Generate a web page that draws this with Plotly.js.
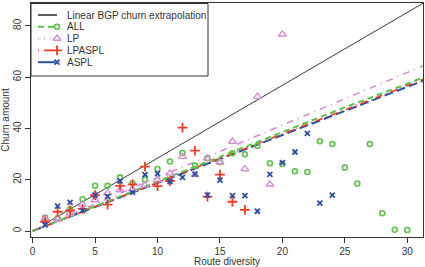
<!DOCTYPE html>
<html><head><meta charset="utf-8">
<script src="https://cdn.plot.ly/plotly-3.0.1.min.js"></script>
<style>html,body{margin:0;padding:0;background:#fff}#chart{width:425px;height:267px}</style>
</head><body><div id="chart"></div>
<script>
// ---- data ----
const allX = [1,2,3,4,5,6,7,8,9,10,11,12,13,14,15,16,17,18,19,20,21,22,23,24,25,26,27,28,29,30];
const allChurn = [5.2,5.0,8.5,12.4,17.6,17.6,20.9,18.6,20.1,24.2,27.1,30.4,25.5,28.4,26.8,30.3,29.9,33.2,26.4,26.1,23.3,23.0,35.0,33.9,24.7,18.5,33.9,6.9,0.5,0.4];
const lpX = [1,2,3,4,5,6,7,8,9,10,11,12,13,14,15,16,17,18,19,20];
const lpChurn = [4.9,4.5,6.9,10.4,12.1,14.8,16.0,16.4,17.8,19.9,22.5,29.0,21.9,28.3,26.8,34.9,24.2,52.4,18.2,76.7];
const lpasplX = [1,2,3,4,5,6,7,8,9,10,11,12,13,14,15,16,17];
const lpasplChurn = [3.6,7.5,8.0,8.6,14.0,10.3,17.6,18.2,25.1,17.5,19.5,40.3,31.3,13.4,22.0,11.4,8.2];
const asplX = [1,2,3,4,5,6,7,8,9,10,11,12,13,14,15,16,17,18,19,20,21,22,23,24];
const asplChurn = [2.4,9.7,11.2,8.0,14.0,13.5,19.5,15.1,22.0,22.4,19.3,20.9,22.2,14.0,19.8,13.8,13.8,7.7,22.1,26.7,30.8,38.1,10.9,14.0];

const fitX = [0,5,10,15,20,25,30,32];
const linearX = [1,32];
const linearY = [2.84,90.9];
const allFit = [0,9.6,19.3,29.0,38.4,48.2,57.4,61.3];
const lpFit = [0,10.6,20.9,31.0,41.3,51.6,61.8,65.9];
const lpasplFit = [0,9.4,19.0,28.5,37.8,47.3,56.7,60.5];
const asplFit = [0,9.3,18.8,28.2,37.5,46.8,56.2,59.9];

const seriesNames = ['Linear BGP churn extrapolation','ALL','LP','LPASPL','ASPL'];

// ---- styles ----
const cBlack = '#3a3a3a', cGreen = '#5ec24a', cPink = '#d38fd3', cRed = '#f23b24', cBlue = '#2b4ea6';
const font = 'Liberation Sans, Arial, Helvetica, sans-serif';

const traces = [
  {x: linearX, y: linearY, mode: 'lines', line: {color: cBlack, width: 1}},
  {x: fitX, y: lpFit, mode: 'lines', line: {color: cPink, width: 1.6, dash: '1px,5px,7px,5px'}},
  {x: fitX, y: asplFit, mode: 'lines', line: {color: cBlue, width: 2, dash: '9px,4px'}},
  {x: fitX, y: lpasplFit, mode: 'lines', line: {color: cRed, width: 1.6, dash: '7px,4px,1px,4px'}},
  {x: fitX, y: allFit, mode: 'lines', line: {color: cGreen, width: 2, dash: '6px,4px'}},
  {x: allX, y: allChurn, mode: 'markers', marker: {symbol: 'circle-open', size: 5, color: cGreen, line: {width: 1.6}}},
  {x: lpX, y: lpChurn, mode: 'markers', marker: {symbol: 'triangle-up-open', size: 7, color: cPink, line: {width: 1.4}}},
  {x: lpasplX, y: lpasplChurn, mode: 'markers', marker: {symbol: 'cross-thin-open', size: 7, color: cRed, line: {width: 1.8}}},
  {x: asplX, y: asplChurn, mode: 'markers', marker: {symbol: 'x-thin-open', size: 5, color: cBlue, line: {width: 1.8}}}
];
traces.forEach(t => { t.showlegend = false; t.hoverinfo = 'skip'; });

// ---- hand-made legend (pixel coordinates on an overlay axis) ----
const rowY = [15, 26.7, 38.5, 50.4, 62.2];
const legColors = [cBlack, cGreen, cPink, cRed, cBlue];
const legDash = ['solid', '6px,4px', '1px,5px', '1px,5px,9px,3px', 'solid'];
const legWidth = [1.6, 2, 1.6, 1.6, 2];
const legSym = [null, 'circle-open', 'triangle-up-open', 'cross-thin-open', 'x-thin-open'];
const legSize = [0, 5, 7, 7, 5];

const shapes = [{type: 'rect', xref: 'x2', yref: 'y2', x0: 31, x1: 208, y0: 3.5, y1: 76,
  line: {color: '#333', width: 1}, fillcolor: '#fff', layer: 'below'}];
const annotations = [];
for (let i = 0; i < 5; i++) {
  shapes.push({type: 'line', xref: 'x2', yref: 'y2', x0: 38, x1: i === 0 ? 57 : 55, y0: rowY[i], y1: rowY[i],
    line: {color: legColors[i], width: legWidth[i], dash: legDash[i]}});
  annotations.push({xref: 'x2', yref: 'y2', x: 65, y: rowY[i], xanchor: 'left', yanchor: 'middle',
    text: seriesNames[i], showarrow: false, font: {family: font, size: 10, color: '#333'}});
  if (legSym[i]) {
    traces.push({x: [57], y: [rowY[i]], xaxis: 'x2', yaxis: 'y2', mode: 'markers', showlegend: false, hoverinfo: 'skip',
      marker: {symbol: legSym[i], size: legSize[i], color: legColors[i], line: {width: i === 2 ? 1.4 : (i === 1 ? 1.6 : 1.8)}}});
  }
}

const axisCommon = {showgrid: false, zeroline: false, showline: true, mirror: true, linecolor: '#333', linewidth: 1,
  ticks: 'outside', ticklen: 5, tickcolor: '#333', tickfont: {family: font, size: 10, color: '#333'}};

const layout = {
  width: 425, height: 267,
  margin: {l: 31, r: 2, t: 3, b: 30},
  paper_bgcolor: '#fff', plot_bgcolor: '#fff',
  showlegend: false,
  font: {family: font, size: 10, color: '#333'},
  xaxis: Object.assign({}, axisCommon, {range: [-0.13, 31.26], tickvals: [0,5,10,15,20,25,30],
    title: {text: 'Route diversity', font: {family: font, size: 10, color: '#333'}, standoff: 4}}),
  yaxis: Object.assign({}, axisCommon, {range: [-2.34, 88.9], tickvals: [0,20,40,60,80], tickangle: -90,
    title: {text: 'Churn amount', font: {family: font, size: 10, color: '#333'}, standoff: 2}}),
  xaxis2: {overlaying: 'x', range: [31, 423], visible: false, fixedrange: true},
  yaxis2: {overlaying: 'y', range: [237, 3], visible: false, fixedrange: true},
  shapes: shapes,
  annotations: annotations
};

Plotly.newPlot('chart', traces, layout, {displayModeBar: false, staticPlot: true});
</script>
</body></html>
